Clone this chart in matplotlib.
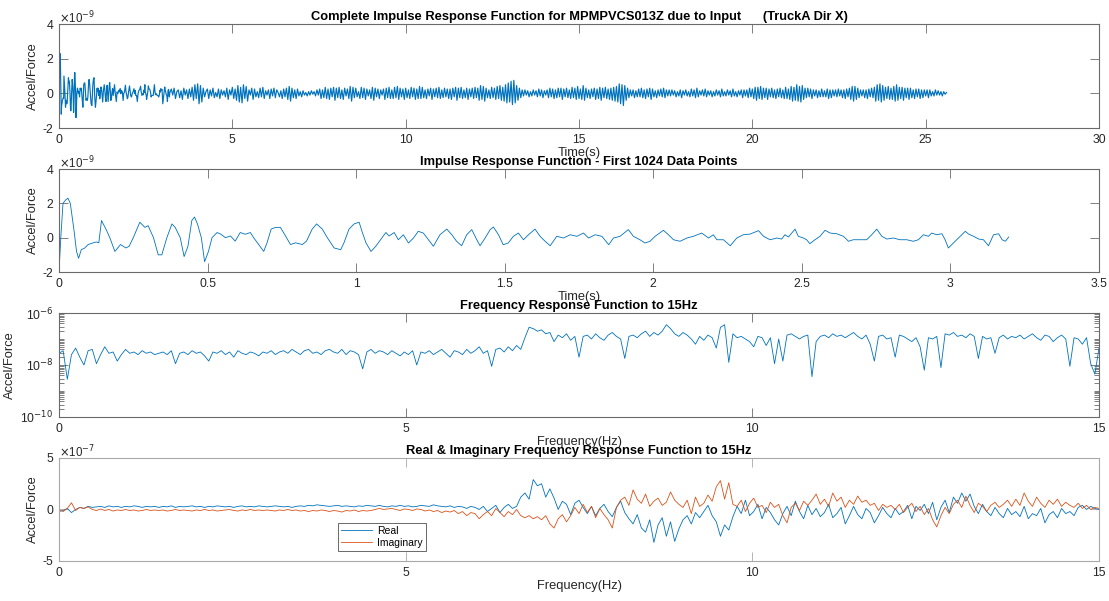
import numpy as np
import matplotlib
matplotlib.use("Agg")
import matplotlib.pyplot as plt
from matplotlib.ticker import LogLocator, NullFormatter

plt.rcParams['font.family'] = ['Liberation Sans', 'DejaVu Sans']
plt.rcParams['axes.unicode_minus'] = False

# impulse response, first 1024 samples (time in s, value in 1e-9 accel/force)
irf_t = [0.0, 0.006, 0.0135, 0.0225, 0.030, 0.038, 0.050, 0.059, 0.066, 0.075,
         0.087, 0.098, 0.115, 0.126, 0.134, 0.143, 0.158, 0.171, 0.188, 0.207,
         0.225, 0.236, 0.25, 0.272, 0.289, 0.30, 0.318, 0.334, 0.346, 0.363,
         0.38, 0.391, 0.408, 0.421, 0.434, 0.447, 0.456, 0.466, 0.479, 0.49,
         0.503, 0.515, 0.532, 0.545, 0.56, 0.577, 0.593, 0.61, 0.627, 0.644,
         0.655, 0.672, 0.689, 0.70, 0.714, 0.729, 0.745, 0.759, 0.779, 0.796,
         0.819, 0.833, 0.852, 0.867, 0.886, 0.903, 0.926, 0.948, 0.959, 0.976,
         0.993, 1.01, 1.021, 1.033, 1.05, 1.066, 1.083, 1.10, 1.111, 1.128,
         1.142, 1.159, 1.176, 1.193, 1.209, 1.226, 1.243, 1.26, 1.282, 1.305,
         1.322, 1.338, 1.355, 1.372, 1.389, 1.406, 1.417, 1.434, 1.451, 1.462,
         1.479, 1.495, 1.512, 1.529, 1.546, 1.563, 1.58, 1.602, 1.619, 1.636,
         1.653, 1.675, 1.698, 1.72, 1.743, 1.765, 1.782, 1.804, 1.827, 1.85,
         1.866, 1.888, 1.916, 1.933, 1.955, 1.972, 1.989, 2.006, 2.034, 2.051,
         2.068, 2.09, 2.113, 2.135, 2.163, 2.186, 2.202, 2.214, 2.236, 2.259,
         2.281, 2.303, 2.326, 2.354, 2.371, 2.393, 2.416, 2.432, 2.443, 2.455,
         2.466, 2.477, 2.488, 2.505, 2.516, 2.527, 2.544, 2.561, 2.578, 2.595,
         2.617, 2.64, 2.657, 2.673, 2.696, 2.718, 2.735, 2.752, 2.769, 2.786,
         2.808, 2.83, 2.853, 2.875, 2.892, 2.909, 2.926, 2.937, 2.954, 2.971,
         2.982, 2.993, 3.004, 3.021, 3.033, 3.05, 3.061, 3.078, 3.095, 3.111,
         3.128, 3.145, 3.162, 3.174, 3.185, 3.196]
irf_v = [-2.0, 0.0, 2.0, 2.2, 2.3, 2.0, 0.5, -0.8, -1.2, -0.7,
         -0.6, -0.4, -0.3, -0.25, -0.3, 1.0, 0.5, 0.0, -0.8, -0.4,
         -0.6, -0.5, 0.0, 0.9, 0.6, 0.7, 0.0, -1.0, -1.0, 0.0,
         0.8, 0.6, 0.0, -1.1, -0.5, 1.0, 1.2, 0.8, 0.0, -1.4,
         -0.8, 0.0, 0.3, 0.2, 0.0, 0.1, -0.2, 0.3, 0.2, 0.3,
         0.0, -0.4, -0.8, -0.3, 0.5, 0.6, 0.6, 0.2, -0.4, -0.3,
         -0.4, -0.2, 0.5, 0.8, 0.5, 0.0, -0.6, -0.7, -0.3, 0.5,
         0.8, 0.9, 0.3, -0.3, -0.8, -0.5, -0.1, 0.3, 0.1, 0.3,
         -0.12, 0.17, -0.31, -0.02, 0.37, 0.27, -0.12, -0.5, 0.17, 0.5,
         0.17, -0.21, -0.47, 0.17, 0.47, -0.12, -0.47, -0.02, 0.47, 0.62,
         0.17, -0.41, -0.31, 0.08, 0.27, -0.12, 0.17, 0.5, 0.08, -0.21,
         -0.47, 0.08, -0.02, 0.17, 0.08, 0.27, -0.02, 0.17, 0.08, -0.41,
         -0.02, 0.08, 0.47, 0.08, -0.12, -0.31, -0.21, 0.08, 0.43, 0.17,
         -0.12, -0.21, -0.02, 0.08, 0.27, -0.02, 0.17, -0.12, -0.12, -0.47,
         -0.02, 0.17, 0.21, 0.41, 0.08, -0.12, -0.02, -0.08, 0.17, 0.04,
         0.27, 0.5, 0.08, -0.02, -0.12, -0.35, -0.12, 0.08, 0.43, 0.27,
         0.23, 0.08, -0.21, -0.12, -0.12, -0.12, 0.17, 0.5, 0.08, -0.08,
         -0.02, -0.12, -0.12, -0.21, -0.12, 0.17, 0.08, 0.27, 0.17, 0.23,
         -0.12, -0.6, -0.41, -0.12, 0.08, 0.37, 0.21, 0.08, -0.08, -0.12,
         -0.47, 0.17, 0.23, -0.12, -0.21, 0.04]

# remainder of the complete response, 3.2 s to 25.6 s every 0.04 s (1e-9)
tail_dt = 0.04
tail_v = [0.25, -0.1, 0.3, -0.3, 0.1, 0.2, -0.25, 0.15, -0.35, 0.3, -0.1, 0.2, -0.3, 0.25, -0.2, 0.35, -0.4, 0.5, -0.3, 0.55,
          -0.6, 0.45, -0.5, 0.3, -0.2, 0.1, 0.25, -0.3, 0.2, -0.15, 0.3, -0.25, 0.05, -0.2, 0.25, -0.3, 0.2, -0.1, 0.15, -0.2,
          0.3, -0.35, 0.2, -0.1, 0.35, -0.3, 0.25, -0.4, 0.45, -0.5, 0.35, -0.55, 0.5, -0.3, 0.4, -0.45, 0.2, -0.1, 0.3, -0.35,
          0.25, -0.2, 0.1, -0.25, 0.3, -0.2, 0.35, -0.3, 0.15, -0.1, 0.2, -0.3, 0.25, -0.15, 0.3, -0.25, 0.2, 0.05, -0.2, 0.15,
          -0.3, 0.25, -0.2, 0.3, -0.35, 0.4, -0.45, 0.3, -0.25, 0.2, -0.3, 0.25, -0.15, 0.1, -0.2, 0.15, -0.1, 0.05, -0.15, 0.1,
          -0.1, 0.15, -0.05, 0.1, -0.15, 0.2, -0.1, 0.25, -0.3, 0.2, -0.25, 0.35, -0.3, 0.25, -0.35, 0.3, -0.2, 0.35, -0.4, 0.3,
          -0.25, 0.35, -0.3, 0.2, -0.35, 0.3, -0.15, 0.25, -0.3, 0.4, -0.45, 0.35, -0.25, 0.3, -0.2, 0.1, -0.3, 0.35, -0.25, 0.3,
          -0.35, 0.25, -0.15, 0.2, -0.3, 0.35, -0.4, 0.3, -0.2, 0.25, -0.3, 0.2, -0.1, 0.25, -0.35, 0.3, -0.25, 0.35, -0.3, 0.2,
          -0.3, 0.35, -0.25, 0.4, -0.35, 0.3, -0.2, 0.25, -0.35, 0.3, -0.25, 0.2, -0.3, 0.35, -0.2, 0.3, -0.35, 0.25, -0.3, 0.4,
          -0.3, 0.35, -0.25, 0.2, -0.3, 0.25, -0.15, 0.3, -0.35, 0.25, -0.2, 0.3, -0.25, 0.35, -0.3, 0.2, -0.25, 0.3, -0.2, 0.25,
          -0.3, 0.25, -0.35, 0.3, -0.2, 0.35, -0.4, 0.3, -0.25, 0.35, -0.3, 0.2, -0.25, 0.3, -0.35, 0.25, -0.2, 0.3, -0.3, 0.35,
          -0.25, 0.3, -0.4, 0.45, -0.35, 0.4, -0.45, 0.3, -0.25, 0.2, -0.3, 0.35, -0.25, 0.3, -0.35, 0.4, -0.3, 0.45, -0.4, 0.35,
          -0.45, 0.5, -0.55, 0.6, -0.5, 0.7, -0.65, 0.75, -0.55, 0.45, -0.4, 0.3, -0.25, 0.2, -0.15, 0.2, -0.1, 0.15, -0.2, 0.1,
          -0.15, 0.2, -0.1, 0.15, -0.2, 0.25, -0.15, 0.2, -0.25, 0.15, -0.1, 0.2, -0.25, 0.3, -0.2, 0.25, -0.3, 0.2, -0.25, 0.3,
          -0.2, 0.3, -0.35, 0.25, -0.2, 0.3, -0.25, 0.2, -0.3, 0.35, -0.25, 0.3, -0.35, 0.4, -0.3, 0.25, -0.35, 0.45, -0.4, 0.3,
          -0.25, 0.2, -0.3, 0.25, -0.2, 0.3, -0.35, 0.25, -0.3, 0.35, -0.4, 0.3, -0.25, 0.35, -0.3, 0.25, -0.35, 0.3, -0.4, 0.35,
          -0.45, 0.4, -0.5, 0.55, -0.6, 0.5, -0.7, 0.45, -0.4, 0.3, -0.25, 0.2, -0.15, 0.2, -0.25, 0.15, -0.2, 0.25, -0.2, 0.3,
          -0.25, 0.2, -0.3, 0.25, -0.2, 0.3, -0.35, 0.25, -0.2, 0.15, -0.25, 0.2, -0.15, 0.25, -0.2, 0.3, -0.25, 0.2, -0.15, 0.2,
          -0.15, 0.2, -0.1, 0.15, -0.2, 0.1, -0.15, 0.2, -0.25, 0.15, -0.1, 0.2, -0.15, 0.1, -0.2, 0.25, -0.15, 0.2, -0.25, 0.3,
          -0.2, 0.15, -0.1, 0.2, -0.15, 0.25, -0.2, 0.15, -0.1, 0.15, -0.2, 0.1, -0.15, 0.2, -0.1, 0.15, -0.2, 0.25, -0.15, 0.1,
          -0.15, 0.2, -0.1, 0.15, -0.2, 0.25, -0.15, 0.1, -0.2, 0.15, -0.1, 0.2, -0.25, 0.2, -0.15, 0.2, -0.25, 0.3, -0.2, 0.25,
          -0.3, 0.35, -0.4, 0.35, -0.3, 0.4, -0.35, 0.3, -0.25, 0.3, -0.35, 0.25, -0.2, 0.3, -0.25, 0.2, -0.3, 0.25, -0.2, 0.3,
          -0.25, 0.2, -0.3, 0.35, -0.3, 0.25, -0.35, 0.4, -0.45, 0.35, -0.4, 0.5, -0.45, 0.4, -0.5, 0.45, -0.35, 0.3, -0.25, 0.3,
          -0.2, 0.25, -0.3, 0.2, -0.15, 0.2, -0.25, 0.15, -0.2, 0.25, -0.2, 0.15, -0.2, 0.25, -0.3, 0.2, -0.25, 0.2, -0.15, 0.2,
          -0.2, 0.25, -0.15, 0.2, -0.25, 0.2, -0.3, 0.25, -0.2, 0.3, -0.35, 0.4, -0.45, 0.4, -0.35, 0.3, -0.25, 0.2, -0.15, 0.2,
          -0.25, 0.2, -0.3, 0.25, -0.2, 0.3, -0.25, 0.35, -0.45, 0.5, -0.4, 0.55, -0.5, 0.45, -0.4, 0.35, -0.3, 0.4, -0.35, 0.3,
          -0.35, 0.4, -0.45, 0.5, -0.4, 0.35, -0.3, 0.35, -0.4, 0.3, -0.25, 0.3, -0.35, 0.3, -0.25, 0.2, -0.3, 0.25, -0.2, 0.25,
          -0.3, 0.2, -0.25, 0.2, -0.15, 0.2, -0.25, 0.2, -0.15, 0.1, -0.15, 0.2, -0.1, 0.15, -0.1, 0.1, -0.15, 0.1, -0.05, 0.05]

# frequency response to 15 Hz, 0.06 Hz spacing
df = 0.06
frf_log = [-7.55, -7.45, -8.55, -7.6, -7.35, -7.7, -8.0, -7.45, -7.4, -7.95, -7.6, -7.3, -7.55, -7.5, -7.85, -7.6, -7.4, -7.55, -7.5, -7.6, -7.45, -7.55, -7.5, -7.6, -7.55,
           -7.5, -7.6, -7.45, -7.95, -7.55, -7.5, -7.6, -7.45, -7.55, -7.5, -7.65, -7.85, -7.5, -7.55, -7.45, -7.6, -7.5, -7.7, -7.45, -7.55, -7.6, -7.5, -7.55, -7.65, -7.5,
           -7.55, -7.45, -7.6, -7.5, -7.45, -7.55, -7.4, -7.5, -7.6, -7.45, -7.4, -7.55, -7.5, -7.6, -7.45, -7.4, -7.5, -7.55, -7.4, -7.6, -7.45, -7.5, -7.6, -8.15, -7.5,
           -7.4, -7.55, -7.45, -7.5, -7.6, -7.45, -7.55, -7.65, -7.5, -7.6, -7.45, -8.0, -7.5, -7.55, -7.45, -7.6, -7.5, -7.4, -7.55, -7.7, -7.45, -7.5, -7.6, -7.4, -7.55,
           -7.45, -7.3, -7.55, -7.45, -8.05, -7.4, -7.35, -7.5, -7.3, -7.45, -7.25, -7.4, -6.95, -6.55, -6.6, -6.7, -6.65, -6.8, -6.75, -7.1, -6.85, -6.95, -6.8, -7.05, -6.9,
           -7.7, -6.9, -6.85, -7.0, -6.8, -6.95, -7.05, -6.85, -6.75, -6.9, -7.0, -7.75, -6.9, -6.85, -6.95, -6.8, -6.7, -6.9, -6.75, -6.85, -6.7, -6.45, -6.6, -6.8, -6.9,
           -6.75, -6.85, -7.0, -7.2, -6.9, -7.05, -6.85, -6.95, -7.35, -6.55, -6.45, -7.9, -6.8, -6.95, -6.9, -7.0, -7.1, -7.3, -6.9, -6.95, -7.25, -6.95, -7.95, -7.0, -7.85,
           -6.85, -6.8, -6.9, -7.0, -6.9, -6.85, -8.45, -7.1, -6.9, -6.85, -6.95, -6.8, -6.9, -6.85, -6.95, -6.85, -6.75, -6.9, -7.0, -6.85, -7.2, -7.85, -6.9, -6.85, -7.0,
           -6.95, -7.7, -6.85, -6.9, -7.0, -7.1, -6.95, -7.3, -8.2, -6.95, -7.0, -6.9, -8.1, -6.8, -6.85, -6.75, -6.9, -6.85, -6.95, -6.8, -6.9, -7.75, -6.9, -7.0, -6.95,
           -7.55, -6.95, -6.85, -7.0, -6.9, -6.95, -6.85, -7.0, -6.9, -6.8, -6.95, -7.05, -6.85, -6.9, -7.1, -6.95, -6.85, -7.0, -8.05, -6.95, -7.0, -7.2, -6.95, -7.95, -8.35,
           -7.35]

# real and imaginary parts (1e-7)
frf_re = [-0.2, -0.1, 0.1, -0.3, 0.0, 0.2, 0.1, 0.3, 0.2, 0.25, 0.3, 0.2, 0.35, 0.25, 0.3, 0.2, 0.3, 0.25, 0.35, 0.3, 0.2, 0.3, 0.25, 0.3, 0.2,
          0.3, 0.25, 0.35, 0.2, 0.3, 0.25, 0.3, 0.35, 0.25, 0.3, 0.2, 0.3, 0.25, 0.35, 0.3, 0.25, 0.3, 0.2, 0.3, 0.35, 0.25, 0.3, 0.25, 0.35, 0.3,
          0.25, 0.3, 0.35, 0.3, 0.25, 0.3, 0.2, 0.3, 0.35, 0.3, 0.4, 0.35, 0.45, 0.4, 0.35, 0.3, 0.35, 0.4, 0.3, 0.35, 0.3, 0.25, 0.35, 0.3, 0.4,
          0.35, 0.3, 0.4, 0.3, 0.25, 0.35, 0.3, 0.4, 0.3, 0.35, 0.25, 0.3, 0.4, 0.35, 0.3, 0.45, 0.35, 0.3, 0.25, 0.35, 0.2, 0.3, 0.25, 0.1, 0.3,
          0.2, 0.0, 0.3, -0.2, 0.1, 0.4, -0.3, 0.2, 0.5, 0.1, 0.3, 1.2, 1.6, 1.0, 2.9, 2.3, 2.5, 1.2, 2.0, 1.1, 0.0, 0.8, 0.5, -0.5, 0.6,
          0.9, 0.2, -0.4, 0.3, -0.6, 0.1, 0.5, -0.2, -0.7, 0.2, 0.8, -0.3, -0.9, -1.4, -0.5, -1.8, -2.2, -1.0, -3.2, -1.5, -0.8, -2.6, -1.2, -3.1, -1.9,
          -1.0, -0.6, -1.4, -0.3, -0.8, -0.2, 0.4, -0.6, -1.2, -2.6, -1.5, -2.0, -0.7, 0.3, -0.4, 0.9, -0.6, -0.2, 0.5, -0.9, 0.2, -0.3, -1.0, -1.5, -0.4,
          0.3, -0.6, 0.8, -0.2, -0.9, 0.4, -0.5, 0.1, -0.7, -0.3, 0.5, -0.8, -0.4, 0.2, -1.4, -0.6, 0.3, -0.5, -0.9, 0.1, -0.3, -1.3, -0.6, 0.2, -0.4,
          -0.8, 0.1, -0.5, -0.2, 0.4, -0.9, 0.3, -0.1, 0.5, -0.4, 0.7, -1.0, 0.2, 0.9, -0.3, 1.2, 0.6, 1.6, 0.8, 1.5, 0.3, -0.4, 0.5, -0.2, -0.6,
          0.2, -0.4, -0.8, 0.1, -0.5, -0.2, -0.7, 0.3, -0.9, -0.4, -0.6, 0.1, -1.3, -0.5, -0.2, -0.8, 0.1, -0.4, -0.2, -0.6, 0.2, 0.4, 0.0, 0.3, 0.1,
          0.0]
frf_im = [0.0, -0.2, 0.1, 0.65, -0.1, 0.2, 0.1, 0.25, 0.0, -0.1, 0.05, -0.1, 0.0, -0.15, -0.05, -0.1, 0.0, -0.1, -0.05, -0.15, -0.1, 0.0, -0.1, -0.05, -0.1,
          -0.05, -0.15, -0.1, 0.0, -0.1, -0.05, -0.1, -0.15, -0.05, -0.1, 0.0, -0.1, -0.05, -0.15, -0.1, -0.05, 0.0, -0.1, -0.15, -0.05, -0.1, 0.0, -0.1, -0.05, -0.1,
          -0.05, -0.1, -0.15, -0.05, -0.1, 0.0, -0.1, -0.05, -0.15, -0.1, -0.2, -0.1, -0.15, -0.05, -0.1, -0.2, -0.1, -0.15, -0.25, -0.1, -0.15, -0.05, -0.2, -0.1, -0.15,
          -0.1, 0.0, 0.1, 0.0, 0.05, 0.1, 0.0, -0.1, 0.05, 0.0, -0.1, 0.05, 0.0, -0.15, -0.05, -0.2, -0.1, -0.3, -0.15, -0.25, -0.1, -0.4, -0.2, -0.6, -0.3,
          -0.4, -0.9, -0.5, -0.2, -0.6, 0.1, -0.3, -0.7, -0.2, -0.5, 0.0, -0.6, -0.8, -0.6, -0.9, -0.7, -1.0, -0.6, -1.4, -1.8, -0.9, -0.5, -1.2, -0.6, 0.2,
          -0.4, 0.5, -0.3, 0.3, -0.8, 0.1, -0.5, -1.0, -1.8, 0.2, 0.9, 1.2, 0.4, 1.9, 1.0, 0.6, 1.5, 0.3, 0.8, 1.1, 0.4, 0.7, 1.7, 0.9, 0.5,
          0.2, 0.9, -0.4, 1.2, 0.3, 0.6, 1.4, 0.8, 2.2, 2.8, 1.0, 2.6, 0.5, 0.3, 0.9, -0.2, 0.6, 1.1, 0.2, 0.4, -0.3, 0.7, 0.2, 0.5, -0.6,
          -1.3, 0.2, 0.6, -0.1, 0.8, 0.4, 0.9, 1.5, 0.5, 1.0, 0.3, 1.6, 0.8, 1.2, 0.2, 0.9, 0.5, 1.3, 0.7, 0.9, 0.4, 0.6, -0.1, 0.5, 0.2,
          0.4, 0.0, 0.5, -0.3, 0.2, 0.6, -0.2, 0.3, -0.5, 0.1, -1.0, -1.7, -0.6, 0.2, -0.4, 0.5, 0.9, 0.2, 1.3, 0.4, -0.3, 0.6, 0.3, -0.2, 0.4,
          0.7, 0.2, 0.5, 0.9, 0.3, 1.0, 0.4, 1.6, 0.8, 0.3, 1.2, 0.6, 0.2, 0.9, 0.5, 1.0, 0.3, 0.7, 0.4, 0.2, 0.6, 0.1, 0.4, 0.0, 0.2,
          0.1]

blue = '#0072BD'
orange = '#D95319'
txt = '#262626'

full_t = np.concatenate([irf_t, 3.2 + tail_dt * np.arange(1, len(tail_v) + 1)])
full_v = np.concatenate([irf_v, tail_v]) * 1e-9


def style(ax, edge, exponent=None):
    for s in ax.spines.values():
        s.set_color(edge)
        s.set_linewidth(0.8)
    ax.tick_params(which='both', direction='in', top=True, right=True,
                   color=edge, labelcolor=txt, labelsize=8.8, width=0.6, pad=4)
    ax.tick_params(which='major', length=6.5)
    ax.tick_params(which='minor', length=3.5)
    ax.set_ylabel('Accel/Force', fontsize=9.3, color=txt, labelpad=3)
    if exponent is not None:
        # MATLAB-style exponent label above the y axis
        ax.text(0.0, 0.98, r'$\times$10$^{%d}$' % exponent, transform=ax.transAxes,
                ha='left', va='bottom', fontsize=8.3, color=txt)


def sci_ticks(ax, ticks, scale):
    ax.set_yticks([t * scale for t in ticks])
    ax.set_yticklabels([str(t) for t in ticks])


fig = plt.figure(figsize=(11.09, 6.01), dpi=100)
L, W = 0.0532, 0.9378

ax1 = fig.add_axes([L, 0.787, W, 0.173])
ax1.plot(full_t, full_v, color=blue, lw=0.85)
ax1.set_xlim(0, 30)
ax1.set_ylim(-2e-9, 4e-9)
ax1.set_xticks(np.arange(0, 31, 5))
sci_ticks(ax1, [-2, 0, 2, 4], 1e-9)
style(ax1, '#6a6a6a', -9)
ax1.set_xlabel('Time(s)', fontsize=9.3, color=txt, labelpad=1)
ax1.set_title('Complete Impulse Response Function for MPMPVCS013Z due to Input      (TruckA Dir X)',
              fontsize=9.3, fontweight='bold', pad=3)

ax2 = fig.add_axes([L, 0.5474, W, 0.1714])
ax2.plot(irf_t, np.array(irf_v) * 1e-9, color=blue, lw=0.6)
ax2.set_xlim(0, 3.5)
ax2.set_ylim(-2e-9, 4e-9)
ax2.set_xticks(np.arange(0, 3.6, 0.5))
ax2.set_xticklabels(['0', '0.5', '1', '1.5', '2', '2.5', '3', '3.5'])
sci_ticks(ax2, [-2, 0, 2, 4], 1e-9)
style(ax2, '#6a6a6a', -9)
ax2.set_xlabel('Time(s)', fontsize=9.3, color=txt, labelpad=1)
ax2.set_title('Impulse Response Function - First 1024 Data Points',
              fontsize=9.3, fontweight='bold', pad=3)

ax3 = fig.add_axes([L, 0.3062, W, 0.173])
ax3.semilogy(df * np.arange(len(frf_log)), 10.0 ** np.array(frf_log), color=blue, lw=0.6)
ax3.set_xlim(0, 15)
ax3.set_ylim(1e-10, 1e-6)
ax3.set_xticks([0, 5, 10, 15])
ax3.set_yticks([1e-10, 1e-8, 1e-6])
ax3.set_yticklabels([r'10$^{-10}$', r'10$^{-8}$', r'10$^{-6}$'])
ax3.yaxis.set_minor_locator(LogLocator(base=10, subs=np.arange(1, 10), numticks=50))
ax3.yaxis.set_minor_formatter(NullFormatter())
style(ax3, '#6a6a6a')
ax3.set_xlabel('Frequency(Hz)', fontsize=9.3, color=txt, labelpad=1)
ax3.set_title('Frequency Response Function to 15Hz', fontsize=9.3, fontweight='bold', pad=3)

ax4 = fig.add_axes([L, 0.0666, W, 0.1714])
ax4.plot(df * np.arange(len(frf_re)), np.array(frf_re) * 1e-7, color=blue, lw=0.6, label='Real')
ax4.plot(df * np.arange(len(frf_im)), np.array(frf_im) * 1e-7, color=orange, lw=0.6, label='Imaginary')
ax4.set_xlim(0, 15)
ax4.set_ylim(-5e-7, 5e-7)
ax4.set_xticks([0, 5, 10, 15])
sci_ticks(ax4, [-5, 0, 5], 1e-7)
style(ax4, '#a8a8a8', -7)
ax4.set_xlabel('Frequency(Hz)', fontsize=9.3, color=txt, labelpad=1)
ax4.set_title('Real & Imaginary Frequency Response Function to 15Hz',
              fontsize=9.3, fontweight='bold', pad=3)
leg = ax4.legend(loc='lower left', bbox_to_anchor=(0.268, 0.097), borderaxespad=0,
                 fontsize=7.5, frameon=True, fancybox=False, handlelength=3.0,
                 borderpad=0.3, labelspacing=0.2, handletextpad=0.5)
leg.get_frame().set_edgecolor('#262626')
leg.get_frame().set_linewidth(0.6)

fig.savefig('out.png', dpi=100)
